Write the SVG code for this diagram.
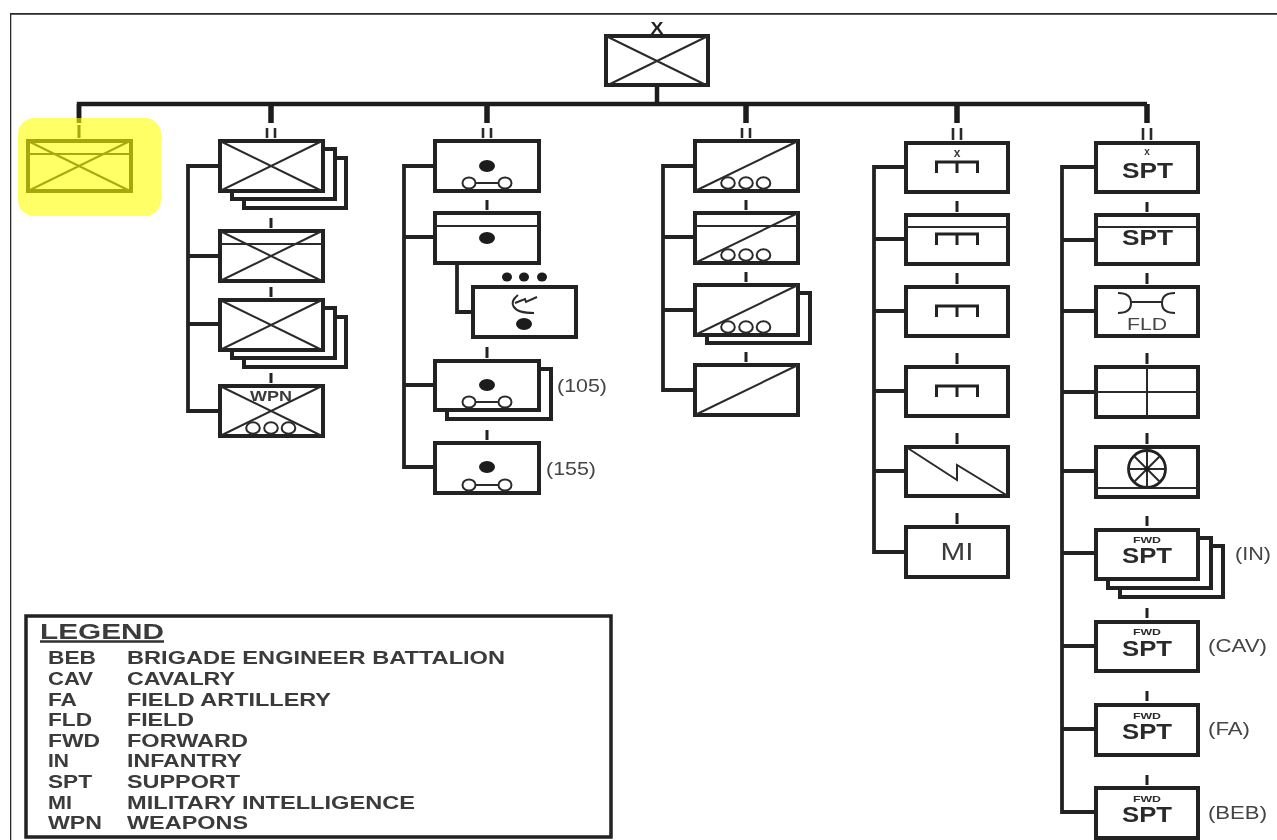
<svg xmlns="http://www.w3.org/2000/svg" width="1277" height="840" viewBox="0 0 1277 840">
<style>
.b{fill:#fff;stroke:#222;stroke-width:4}
.n{fill:none;stroke:#2a2a2a;stroke-width:2}
.c{fill:none;stroke:#222;stroke-width:3.8}
.t{fill:none;stroke:#222;stroke-width:3}
.k{fill:none;stroke:#1c1c1c;stroke-width:5.500}
.o{fill:#fff;stroke:#2a2a2a;stroke-width:2}
.d{fill:#1c1c1c}
text{font-family:"Liberation Sans",Arial,sans-serif;fill:#3a3a3a;font-weight:bold}
.l{font-size:18.500px}
.r{font-size:18.500px;font-weight:normal;fill:#444}
.s{font-size:22px;fill:#2a2a2a}
.f{font-size:9.500px;fill:#2a2a2a}
</style>
<defs>
<filter id="soft" x="0" y="0" width="100%" height="100%"><feGaussianBlur stdDeviation="0.5"/></filter>
<g id="x"><path class="n" d="M0,0L102,50M102,0L0,50"/></g>
<g id="arty"><path class="n" d="M-13,0H13"/><ellipse class="o" cx="-18" cy="0" rx="6.500" ry="5.500"/><ellipse class="o" cx="18" cy="0" rx="6.500" ry="5.500"/></g>
<g id="ooo"><ellipse class="o" cx="-18" cy="0" rx="6.800" ry="5.800"/><ellipse class="o" cx="0" cy="0" rx="6.800" ry="5.800"/><ellipse class="o" cx="17.500" cy="0" rx="6.800" ry="5.800"/></g>
<g id="comb"><path class="t" d="M-20.500,11V0H20.500V11M0,0V11"/></g>
</defs>
<g filter="url(#soft)">
<path d="M1277,13.500H10V840" fill="none" stroke="#2a2a2a" stroke-width="2.600"/>

<g id="connectors">
<path class="k" style="stroke-width:4.500" d="M79,118V104H1147M657,85V104"/>
<path class="k" d="M271,104V123M487,104V123M746,104V123M957,104V123M1147,104V123"/>
<path class="n" style="stroke-width:2.600" d="M267,128V138M275,128V138M483,128V138M491,128V138M742,128V138M750,128V138M953,128V140M961,128V140M1143,128V140M1151,128V140"/>
<path class="k" style="stroke-width:4.500" d="M79,104V123"/>
<path class="t" d="M79,125V138"/>
<path class="c" d="M219,166H188V411H219M188,256H219M188,324H219"/>
<path class="c" d="M435,166H404V467H435M404,237H435M404,385H435"/>
<path class="c" d="M457,263V312H473"/>
<path class="c" d="M695,166H663V390H695M663,237H695M663,310H695"/>
<path class="c" d="M906,167H874V552H906M874,239H906M874,311H906M874,391H906M874,471H906"/>
<path class="c" d="M1096,167H1062V812H1096M1062,240H1096M1062,311H1096M1062,392H1096M1062,471H1096M1062,553H1096M1062,646H1096M1062,729H1096"/>
<path class="t" d="M271,218V228M271,287V297M271,373V383M487,200V210M487,347V358M487,430V440M746,200V210M746,272V282M746,352V362M957,201V212M957,273V284M957,353V364M957,433V444M957,513V524M1147,202V212M1147,273V284M1147,353V364M1147,433V444M1147,516V526M1147,608V618M1147,691V701M1147,775V785"/>
</g>

<g id="node-hq"><text x="657" y="34" text-anchor="middle" textLength="13" lengthAdjust="spacingAndGlyphs" style="font-size:17px;fill:#222">X</text><rect class="b" x="606" y="36" width="102" height="49"/><use href="#x" x="606" y="36"/></g>

<g id="node-c1a"><rect class="b" x="28" y="141" width="103" height="50"/><use href="#x" x="28" y="141"/><path class="n" d="M28,154H131"/></g>

<g id="node-c2a"><rect class="b" x="244" y="158" width="102" height="50"/><rect class="b" x="232" y="149" width="103" height="50"/><rect class="b" x="220" y="141" width="103" height="50"/><use href="#x" x="220" y="141"/></g>
<g id="node-c2b"><rect class="b" x="220" y="231" width="103" height="50"/><use href="#x" x="220" y="231"/><path class="n" d="M220,244H323"/></g>
<g id="node-c2c"><rect class="b" x="244" y="317" width="102" height="50"/><rect class="b" x="232" y="308" width="103" height="50"/><rect class="b" x="220" y="300" width="103" height="50"/><use href="#x" x="220" y="300"/></g>
<g id="node-c2d"><rect class="b" x="220" y="386" width="103" height="50"/><use href="#x" x="220" y="386"/><text x="250" y="401" style="font-size:15px" textLength="42" lengthAdjust="spacingAndGlyphs">WPN</text><use href="#ooo" x="271" y="428"/></g>

<g id="node-c3a"><rect class="b" x="435" y="141" width="104" height="50"/><ellipse class="d" cx="487" cy="166" rx="8" ry="6"/><use href="#arty" x="487" y="183"/></g>
<g id="node-c3b"><rect class="b" x="435" y="213" width="104" height="50"/><path class="n" d="M435,226H539"/><ellipse class="d" cx="487" cy="238" rx="8" ry="6"/></g>
<g id="node-c3c"><ellipse class="d" cx="507" cy="277" rx="5" ry="4.500"/><ellipse class="d" cx="524" cy="277" rx="5" ry="4.500"/><ellipse class="d" cx="542" cy="277" rx="5" ry="4.500"/><rect class="b" x="473" y="287" width="103" height="50"/><ellipse class="d" cx="524" cy="324" rx="8" ry="6"/><path class="n" d="M518,295C509,302 510,313 534,313M515,303L525,299L526,302L537,297"/></g>
<g id="node-c3d"><rect class="b" x="447" y="369" width="104" height="50"/><rect class="b" x="435" y="361" width="104" height="49"/><ellipse class="d" cx="487" cy="385" rx="8" ry="6"/><use href="#arty" x="487" y="402"/><text class="r" x="557" y="392" textLength="50" lengthAdjust="spacingAndGlyphs">(105)</text></g>
<g id="node-c3e"><rect class="b" x="435" y="443" width="104" height="50"/><ellipse class="d" cx="487" cy="467" rx="8" ry="6"/><use href="#arty" x="487" y="485"/><text class="r" x="546" y="475" textLength="50" lengthAdjust="spacingAndGlyphs">(155)</text></g>

<g id="node-c4a"><rect class="b" x="695" y="141" width="103" height="50"/><path class="n" d="M695,191L798,141"/><use href="#ooo" x="746" y="183"/></g>
<g id="node-c4b"><rect class="b" x="695" y="213" width="103" height="50"/><path class="n" d="M695,226H798M695,263L798,213"/><use href="#ooo" x="746" y="255"/></g>
<g id="node-c4c"><rect class="b" x="707" y="293" width="103" height="50"/><rect class="b" x="695" y="285" width="103" height="50"/><path class="n" d="M695,335L798,285"/><use href="#ooo" x="746" y="327"/></g>
<g id="node-c4d"><rect class="b" x="695" y="365" width="103" height="50"/><path class="n" d="M695,415L798,365"/></g>

<g id="node-c5a"><rect class="b" x="906" y="143" width="102" height="49"/><text x="957" y="157" text-anchor="middle" style="font-size:12px">x</text><use href="#comb" x="957" y="162"/></g>
<g id="node-c5b"><rect class="b" x="906" y="215" width="102" height="49"/><path class="n" d="M906,227H1008"/><use href="#comb" x="957" y="234"/></g>
<g id="node-c5c"><rect class="b" x="906" y="287" width="102" height="49"/><use href="#comb" x="957" y="306"/></g>
<g id="node-c5d"><rect class="b" x="906" y="367" width="102" height="49"/><use href="#comb" x="957" y="386"/></g>
<g id="node-c5e"><rect class="b" x="906" y="447" width="102" height="49"/><path class="n" d="M906,447L957,480V465L1008,496"/></g>
<g id="node-c5f"><rect class="b" x="906" y="527" width="102" height="50"/><text x="957" y="560" text-anchor="middle" textLength="33" lengthAdjust="spacingAndGlyphs" style="font-size:24px;font-weight:normal">MI</text></g>

<g id="node-c6a"><rect class="b" x="1096" y="143" width="102" height="49"/><text x="1147" y="155" text-anchor="middle" style="font-size:10px">x</text><text class="s" x="1122" y="178" textLength="51" lengthAdjust="spacingAndGlyphs">SPT</text></g>
<g id="node-c6b"><rect class="b" x="1096" y="215" width="102" height="49"/><path class="n" d="M1096,227H1198"/><text class="s" x="1122" y="245" textLength="51" lengthAdjust="spacingAndGlyphs">SPT</text></g>
<g id="node-c6c"><rect class="b" x="1096" y="287" width="102" height="49"/><path class="n" d="M1118,293C1128,293 1131,298 1131,303C1131,308 1128,313 1118,313M1175,293C1165,293 1162,298 1162,303C1162,308 1165,313 1175,313M1131,302H1162"/><text x="1147" y="330" text-anchor="middle" textLength="40" lengthAdjust="spacingAndGlyphs" style="font-size:16px;font-weight:normal;fill:#444">FLD</text></g>
<g id="node-c6d"><rect class="b" x="1096" y="367" width="102" height="50"/><path class="n" d="M1096,392H1198M1147,367V417"/></g>
<g id="node-c6e"><rect class="b" x="1096" y="447" width="102" height="50"/><path class="n" d="M1096,488H1198"/><circle cx="1147" cy="469" r="18.500" fill="none" stroke="#222" stroke-width="2.800"/><path class="n" d="M1128,469H1166M1147,450V488M1134,456L1160,482M1160,456L1134,482"/><circle class="d" cx="1147" cy="469" r="2.500"/></g>
<g id="node-c6f"><rect class="b" x="1120" y="546" width="103" height="51"/><rect class="b" x="1108" y="538" width="103" height="50"/><rect class="b" x="1096" y="530" width="102" height="49"/><text class="f" x="1133" y="543" textLength="28" lengthAdjust="spacingAndGlyphs">FWD</text><text class="s" x="1122" y="563" textLength="50" lengthAdjust="spacingAndGlyphs">SPT</text><text class="r" x="1235" y="560" textLength="36" lengthAdjust="spacingAndGlyphs">(IN)</text></g>
<g id="node-c6g"><rect class="b" x="1096" y="622" width="102" height="49"/><text class="f" x="1133" y="635" textLength="28" lengthAdjust="spacingAndGlyphs">FWD</text><text class="s" x="1122" y="656" textLength="50" lengthAdjust="spacingAndGlyphs">SPT</text><text class="r" x="1208" y="652" textLength="59" lengthAdjust="spacingAndGlyphs">(CAV)</text></g>
<g id="node-c6h"><rect class="b" x="1096" y="705" width="102" height="50"/><text class="f" x="1133" y="719" textLength="28" lengthAdjust="spacingAndGlyphs">FWD</text><text class="s" x="1122" y="739" textLength="50" lengthAdjust="spacingAndGlyphs">SPT</text><text class="r" x="1208" y="735" textLength="42" lengthAdjust="spacingAndGlyphs">(FA)</text></g>
<g id="node-c6i"><rect class="b" x="1096" y="788" width="102" height="50"/><text class="f" x="1133" y="802" textLength="28" lengthAdjust="spacingAndGlyphs">FWD</text><text class="s" x="1122" y="822" textLength="50" lengthAdjust="spacingAndGlyphs">SPT</text><text class="r" x="1208" y="819" textLength="59" lengthAdjust="spacingAndGlyphs">(BEB)</text></g>

<g id="legend">
<rect x="26" y="616" width="585" height="221" fill="#fff" stroke="#222" stroke-width="3.500"/>
<text x="40" y="638.500" style="font-size:22px" textLength="124" lengthAdjust="spacingAndGlyphs">LEGEND</text>
<path d="M40,641.500H164" stroke="#333" stroke-width="2.400"/>
<text class="l" x="48" y="664" textLength="48" lengthAdjust="spacingAndGlyphs">BEB</text><text class="l" x="127" y="664" textLength="378" lengthAdjust="spacingAndGlyphs">BRIGADE ENGINEER BATTALION</text>
<text class="l" x="48" y="684.500" textLength="45" lengthAdjust="spacingAndGlyphs">CAV</text><text class="l" x="127" y="684.500" textLength="108" lengthAdjust="spacingAndGlyphs">CAVALRY</text>
<text class="l" x="48" y="705.500" textLength="29" lengthAdjust="spacingAndGlyphs">FA</text><text class="l" x="127" y="705.500" textLength="204" lengthAdjust="spacingAndGlyphs">FIELD ARTILLERY</text>
<text class="l" x="48" y="726" textLength="44" lengthAdjust="spacingAndGlyphs">FLD</text><text class="l" x="127" y="726" textLength="67" lengthAdjust="spacingAndGlyphs">FIELD</text>
<text class="l" x="48" y="746.500" textLength="52" lengthAdjust="spacingAndGlyphs">FWD</text><text class="l" x="127" y="746.500" textLength="121" lengthAdjust="spacingAndGlyphs">FORWARD</text>
<text class="l" x="48" y="767" textLength="21" lengthAdjust="spacingAndGlyphs">IN</text><text class="l" x="127" y="767" textLength="115" lengthAdjust="spacingAndGlyphs">INFANTRY</text>
<text class="l" x="48" y="787.500" textLength="44" lengthAdjust="spacingAndGlyphs">SPT</text><text class="l" x="127" y="787.500" textLength="113" lengthAdjust="spacingAndGlyphs">SUPPORT</text>
<text class="l" x="48" y="808.500" textLength="24" lengthAdjust="spacingAndGlyphs">MI</text><text class="l" x="127" y="808.500" textLength="288" lengthAdjust="spacingAndGlyphs">MILITARY INTELLIGENCE</text>
<text class="l" x="48" y="829" textLength="54" lengthAdjust="spacingAndGlyphs">WPN</text><text class="l" x="127" y="829" textLength="121" lengthAdjust="spacingAndGlyphs">WEAPONS</text>
</g>
<rect id="highlight" x="18" y="118" width="143" height="98" rx="16" fill="#ffff00" fill-opacity="0.6"/>
</g>
</svg>
